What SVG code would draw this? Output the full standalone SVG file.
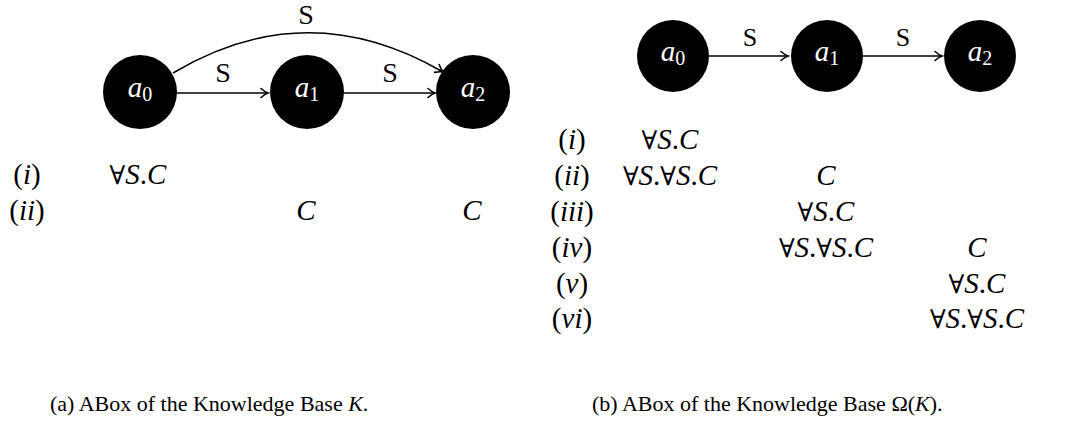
<svg xmlns="http://www.w3.org/2000/svg" width="1089" height="432" viewBox="0 0 1089 432">
<style>
  .node { fill: #000; }
  .nl { fill: #fff; font-family: "Liberation Serif", serif; font-size: 29px; text-anchor: middle; }
  .it { font-family: "Liberation Serif", serif; font-style: italic; }
  .edge { fill: none; stroke: #000; stroke-width: 1.6; }
  .el { font-family: "Liberation Serif", serif; font-size: 28px; text-anchor: middle; fill: #000; }
  .el2 { font-family: "Liberation Serif", serif; font-size: 26px; text-anchor: middle; fill: #000; }
  .m { font-family: "Liberation Serif", serif; font-size: 29px; text-anchor: middle; fill: #000; }
  .fa { font-family: "DejaVu Serif", serif; font-style: normal; font-size: 26px; }
  .up { font-family: "Liberation Serif", serif; font-style: normal; }
  .cap { font-family: "Liberation Serif", serif; font-size: 22px; fill: #000; }
</style>
<defs>
  <marker id="arr" viewBox="-10 -6 12 12" refX="0" refY="0" markerWidth="12" markerHeight="12" markerUnits="userSpaceOnUse" orient="auto">
    <path d="M-7,-4.5 Q-3,-1 0,0 Q-3,1 -7,4.5" fill="none" stroke="#000" stroke-width="1.6" stroke-linecap="round"/>
  </marker>
</defs>

<!-- Left subfigure (a) -->
<g id="connectors-a">
  <path class="edge" d="M177,93 L268,93" marker-end="url(#arr)"/>
  <path class="edge" d="M344,93 L435,93" marker-end="url(#arr)"/>
  <path class="edge" d="M173,73 Q307,-7 443,72" marker-end="url(#arr)"/>
  <text class="el" x="223" y="82">S</text>
  <text class="el" x="390" y="82">S</text>
  <text class="el" x="306" y="24">S</text>
</g>
<g id="a-a0">
  <circle class="node" cx="140" cy="92" r="37"/>
  <text class="nl" x="140" y="97"><tspan class="it">a</tspan><tspan font-size="20" dy="4">0</tspan></text>
</g>
<g id="a-a1">
  <circle class="node" cx="307" cy="92" r="37"/>
  <text class="nl" x="307" y="97"><tspan class="it">a</tspan><tspan font-size="20" dy="4">1</tspan></text>
</g>
<g id="a-a2">
  <circle class="node" cx="473" cy="92" r="37"/>
  <text class="nl" x="473" y="97"><tspan class="it">a</tspan><tspan font-size="20" dy="4">2</tspan></text>
</g>
<g id="table-a">
  <text class="m" x="27" y="184"><tspan class="up">(</tspan><tspan class="it">i</tspan><tspan class="up">)</tspan></text>
  <text class="m" x="138" y="184"><tspan class="fa">∀</tspan><tspan class="it">S</tspan><tspan class="up">.</tspan><tspan class="it">C</tspan></text>
  <text class="m" x="27" y="220"><tspan class="up">(</tspan><tspan class="it">ii</tspan><tspan class="up">)</tspan></text>
  <text class="m" x="306" y="220"><tspan class="it">C</tspan></text>
  <text class="m" x="472" y="220"><tspan class="it">C</tspan></text>
</g>

<!-- Right subfigure (b) -->
<g id="connectors-b">
  <path class="edge" d="M709,56 L788,56" marker-end="url(#arr)"/>
  <path class="edge" d="M863,56 L942,56" marker-end="url(#arr)"/>
  <text class="el2" x="750" y="46">S</text>
  <text class="el2" x="903" y="46">S</text>
</g>
<g id="b-a0">
  <circle class="node" cx="673" cy="56" r="36"/>
  <text class="nl" x="673" y="61"><tspan class="it">a</tspan><tspan font-size="20" dy="4">0</tspan></text>
</g>
<g id="b-a1">
  <circle class="node" cx="827" cy="56" r="36"/>
  <text class="nl" x="827" y="61"><tspan class="it">a</tspan><tspan font-size="20" dy="4">1</tspan></text>
</g>
<g id="b-a2">
  <circle class="node" cx="980" cy="56" r="36"/>
  <text class="nl" x="980" y="61"><tspan class="it">a</tspan><tspan font-size="20" dy="4">2</tspan></text>
</g>
<g id="table-b">
  <text class="m" x="572" y="149"><tspan class="up">(</tspan><tspan class="it">i</tspan><tspan class="up">)</tspan></text>
  <text class="m" x="572" y="185"><tspan class="up">(</tspan><tspan class="it">ii</tspan><tspan class="up">)</tspan></text>
  <text class="m" x="572" y="221"><tspan class="up">(</tspan><tspan class="it">iii</tspan><tspan class="up">)</tspan></text>
  <text class="m" x="572" y="257"><tspan class="up">(</tspan><tspan class="it">iv</tspan><tspan class="up">)</tspan></text>
  <text class="m" x="572" y="293"><tspan class="up">(</tspan><tspan class="it">v</tspan><tspan class="up">)</tspan></text>
  <text class="m" x="572" y="328"><tspan class="up">(</tspan><tspan class="it">vi</tspan><tspan class="up">)</tspan></text>

  <text class="m" x="670" y="149"><tspan class="fa">∀</tspan><tspan class="it">S</tspan><tspan class="up">.</tspan><tspan class="it">C</tspan></text>
  <text class="m" x="670" y="185"><tspan class="fa">∀</tspan><tspan class="it">S</tspan><tspan class="up">.</tspan><tspan class="fa">∀</tspan><tspan class="it">S</tspan><tspan class="up">.</tspan><tspan class="it">C</tspan></text>
  <text class="m" x="826" y="185"><tspan class="it">C</tspan></text>
  <text class="m" x="826" y="221"><tspan class="fa">∀</tspan><tspan class="it">S</tspan><tspan class="up">.</tspan><tspan class="it">C</tspan></text>
  <text class="m" x="826" y="257"><tspan class="fa">∀</tspan><tspan class="it">S</tspan><tspan class="up">.</tspan><tspan class="fa">∀</tspan><tspan class="it">S</tspan><tspan class="up">.</tspan><tspan class="it">C</tspan></text>
  <text class="m" x="977" y="257"><tspan class="it">C</tspan></text>
  <text class="m" x="977" y="293"><tspan class="fa">∀</tspan><tspan class="it">S</tspan><tspan class="up">.</tspan><tspan class="it">C</tspan></text>
  <text class="m" x="977" y="328"><tspan class="fa">∀</tspan><tspan class="it">S</tspan><tspan class="up">.</tspan><tspan class="fa">∀</tspan><tspan class="it">S</tspan><tspan class="up">.</tspan><tspan class="it">C</tspan></text>
</g>

<!-- Captions -->
<text class="cap" x="50" y="411">(a) ABox of the Knowledge Base <tspan class="it">K</tspan>.</text>
<text class="cap" x="592" y="411">(b) ABox of the Knowledge Base Ω(<tspan class="it">K</tspan>).</text>
</svg>
